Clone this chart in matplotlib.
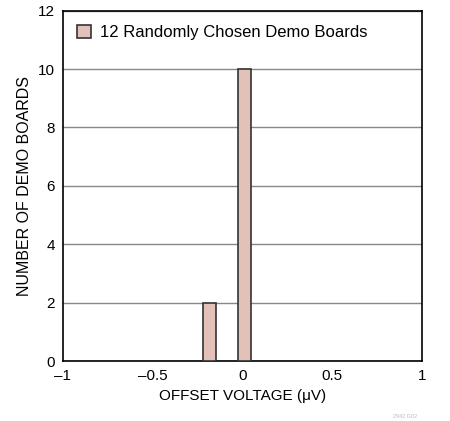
import matplotlib
matplotlib.use("Agg")
import matplotlib.pyplot as plt

plt.rcParams['font.family'] = ['Liberation Sans', 'DejaVu Sans']

# offset voltage bins (uV) and board counts
bin_centers = [-0.185, 0.01]
counts = [2, 10]
bin_width = 0.075
xticks = [-1, -0.5, 0, 0.5, 1]
xtick_labels = ['\u20131', '\u20130.5', '0', '0.5', '1']
yticks = [0, 2, 4, 6, 8, 10, 12]

fig = plt.figure(figsize=(4.5, 4.21), dpi=100)
ax = fig.add_axes([0.14, 0.1425, 0.798, 0.832])

ax.bar(bin_centers, counts, width=bin_width, color='#e3c1b9', edgecolor='#333333',
       linewidth=1.2, zorder=3, label='12 Randomly Chosen Demo Boards')

ax.set_xlim(-1, 1)
ax.set_ylim(0, 12)
ax.set_xticks(xticks)
ax.set_xticklabels(xtick_labels)
ax.set_yticks(yticks)
ax.yaxis.grid(True, color='#888888', linewidth=1.0, zorder=0)
ax.tick_params(length=0, labelsize=11, pad=6)
for s in ax.spines.values():
    s.set_linewidth(1.2)

ax.set_xlabel('OFFSET VOLTAGE (\u03bcV)', fontsize=11)
ax.set_ylabel('NUMBER OF DEMO BOARDS', fontsize=11.5)

leg = ax.legend(loc='upper left', frameon=False, fontsize=12, handlelength=0.85,
                handleheight=0.85, handletextpad=0.5, borderaxespad=0.45)

fig.text(0.9, 0.005, '2942 G02', fontsize=4, color='#bbbbbb', ha='center', va='bottom')

fig.savefig('out.png', dpi=100)
